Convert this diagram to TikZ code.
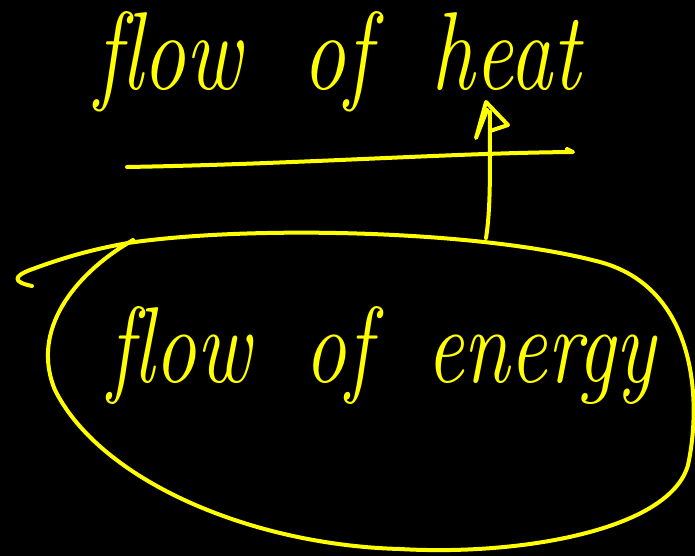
\documentclass[tikz,border=0pt]{standalone}
\usepackage{fontspec}
\definecolor{ink}{HTML}{FFFF00}
\tikzset{
  pen/.style={draw=ink, line width=4pt, line cap=round, line join=round},
  hand/.style={text=ink, inner sep=0pt, font=\fontsize{92}{92}\selectfont\itshape}
}
\begin{document}
\begin{tikzpicture}[x=1pt,y=-1pt]
\fill[black] (0,0) rectangle (695,556);
\useasboundingbox (0,0) rectangle (695,556);
% title text
\node[hand, anchor=base west] (heat) at (95,90) {\resizebox{485pt}{78pt}{f\kern0pt low\hspace{0.35em} of\hspace{0.35em} heat}};
% underline
\coordinate (ul1) at (127,167);
\coordinate (ul2) at (573,152);
\draw[pen] (ul1) .. controls (300,164) and (450,153) .. (ul2) -- (567,149);
% arrow
\coordinate (ashaft) at (486,238);
\coordinate (atop) at (490,112);
\draw[pen] (ashaft) .. controls (492,200) and (489,150) .. (atop);
\draw[pen] (490,131) -- (508,125) -- (486,102) -- (476,138) -- (487,110);
% ellipse loop with tail
\coordinate (tail) at (32,286);
\coordinate (cross) at (128,243);
\draw[pen] (tail) .. controls (12,282) and (14,276) .. (30,270)
  .. controls (70,255) and (100,248) .. (cross)
  .. controls (250,225) and (480,230) .. (600,262)
  .. controls (696,288) and (702,400) .. (688,465)
  .. controls (670,530) and (520,556) .. (400,549)
  .. controls (250,545) and (100,480) .. (55,390)
  .. controls (30,330) and (75,275) .. (cross)
  -- (133,240);
% inner text
\node[hand, anchor=base west] (energy) at (108,382) {\resizebox{547pt}{76pt}{f\kern0pt low\hspace{0.3em} of\hspace{0.3em} energy}};
\end{tikzpicture}
\end{document}
